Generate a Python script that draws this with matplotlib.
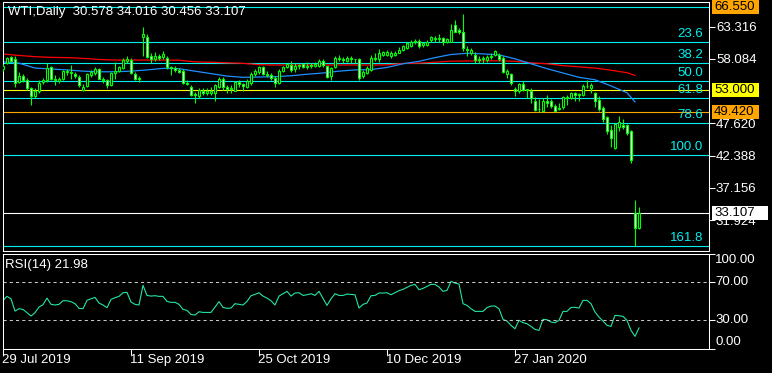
import matplotlib
matplotlib.use("Agg")
import matplotlib.pyplot as plt
import matplotlib.transforms as mtransforms
from matplotlib.patches import Rectangle
import numpy as np
import pandas as pd

# daily bars, 29 Jul 2019 .. 10 Mar 2020 (no bars on 25 Dec / 1 Jan)
dates = pd.bdate_range("2019-07-29", "2020-03-10")
dates = dates[~dates.isin(pd.to_datetime(["2019-12-25", "2020-01-01"]))]

opens = [56.4, 57.4, 58.4, 58.0, 54.4, 55.3, 54.7, 53.3, 52.0, 52.8,
         54.4, 54.6, 56.8, 54.9, 54.5, 54.9, 56.1, 55.8, 55.7, 55.2,
         53.1, 53.7, 55.5, 55.8, 56.4, 54.8, 54.7, 53.9, 55.8, 56.1,
         56.6, 57.8, 57.9, 55.7, 55.0, 61.6, 61.6, 58.5, 58.0, 58.5,
         58.4, 58.3, 56.8, 56.6, 56.3, 56.2, 54.2, 53.6, 52.4, 52.1,
         52.9, 52.6, 52.6, 52.6, 53.6, 54.9, 53.5, 53.2, 52.9, 54.3,
         54.0, 53.6, 54.2, 55.6, 55.9, 56.7, 55.6, 55.5, 55.0, 54.1,
         56.1, 56.7, 57.1, 56.4, 56.9, 57.2, 56.8, 57.1, 56.9, 57.0,
         57.8, 56.9, 55.3, 56.8, 58.0, 58.0, 57.8, 58.2, 58.0, 58.0,
         55.3, 55.8, 56.3, 58.1, 58.0, 58.8, 58.8, 58.6, 58.7, 59.1,
         59.6, 59.9, 60.2, 60.8, 61.0, 60.3, 60.4, 61.1, 61.4, 61.4,
         61.5, 60.9, 60.9, 63.6, 62.8, 62.5, 59.7, 59.0, 58.7, 58.0,
         58.0, 57.9, 58.4, 58.7, 58.7, 58.3, 55.6, 55.6, 53.2, 52.8,
         54.0, 53.2, 52.9, 51.3, 49.9, 49.6, 51.2, 51.3, 50.4, 49.9,
         50.2, 51.8, 51.7, 52.5, 52.3, 52.3, 53.7, 53.4, 52.5, 51.4,
         50.1, 48.7, 46.6, 43.6, 47.1, 47.4, 47.4, 46.4, 33.1, 30.578]
highs = [57.3, 58.4, 58.6, 58.6, 56.0, 55.6, 55.0, 53.5, 53.3, 54.6,
         55.0, 57.4, 57.0, 55.5, 55.2, 56.3, 56.5, 57.1, 56.0, 55.4,
         54.0, 55.8, 56.3, 56.7, 56.6, 55.2, 54.9, 56.0, 57.6, 57.0,
         58.2, 58.6, 58.2, 56.0, 55.3, 63.2, 62.2, 59.0, 59.2, 58.9,
         59.3, 58.5, 57.0, 56.9, 56.6, 56.4, 54.6, 53.8, 52.7, 53.3,
         53.4, 53.4, 53.6, 54.0, 55.1, 55.2, 53.8, 53.9, 54.5, 54.6,
         54.2, 54.8, 56.0, 56.4, 57.0, 57.0, 56.2, 55.8, 55.3, 56.5,
         57.0, 57.4, 57.8, 57.4, 57.3, 57.5, 57.6, 57.5, 57.6, 58.0,
         58.0, 57.0, 56.8, 58.6, 58.7, 58.4, 58.6, 58.5, 58.1, 58.2,
         56.3, 56.9, 58.7, 59.0, 59.7, 59.4, 59.5, 59.4, 59.3, 60.0,
         60.4, 60.8, 61.1, 61.3, 61.3, 60.9, 61.1, 61.8, 61.8, 62.1,
         61.6, 61.5, 63.7, 64.4, 63.1, 65.4, 60.2, 59.9, 59.2, 58.5,
         58.5, 58.7, 59.0, 59.5, 59.0, 58.5, 56.4, 55.8, 53.5, 54.1,
         54.5, 53.2, 53.3, 51.9, 51.5, 51.7, 52.2, 51.6, 50.8, 51.0,
         52.0, 52.3, 52.7, 52.7, 52.5, 54.0, 54.7, 54.1, 52.7, 52.1,
         50.5, 48.9, 47.3, 47.7, 48.8, 48.4, 47.5, 46.6, 35.2, 34.016]
lows = [56.1, 57.2, 57.6, 53.6, 54.1, 54.3, 53.0, 50.6, 51.7, 52.6,
        54.0, 54.3, 54.7, 53.9, 54.2, 54.7, 55.5, 54.9, 55.0, 53.6,
        52.8, 53.5, 55.2, 55.5, 54.8, 54.2, 53.3, 53.7, 54.9, 55.9,
        56.4, 57.5, 55.6, 54.7, 54.4, 58.6, 58.2, 57.5, 57.8, 57.9,
        58.0, 56.5, 55.5, 56.0, 55.8, 54.0, 53.8, 52.0, 50.9, 51.8,
        52.2, 52.3, 52.2, 51.3, 53.4, 53.0, 52.6, 52.5, 52.8, 53.5,
        52.9, 53.4, 53.8, 55.3, 55.6, 55.4, 55.1, 54.6, 53.6, 54.0,
        55.9, 56.6, 56.0, 56.0, 56.5, 56.6, 56.4, 56.6, 56.7, 56.8,
        56.8, 55.0, 54.7, 56.6, 57.8, 57.4, 57.6, 57.4, 57.4, 54.7,
        55.0, 55.6, 56.1, 57.8, 57.6, 58.6, 58.5, 58.3, 58.5, 59.0,
        59.4, 59.7, 60.0, 60.5, 59.8, 60.0, 60.2, 60.9, 60.9, 60.9,
        60.4, 60.6, 60.8, 62.4, 62.1, 59.3, 58.5, 58.7, 57.4, 57.5,
        57.4, 57.6, 58.1, 58.5, 57.8, 55.8, 55.0, 53.8, 52.1, 52.6,
        52.8, 51.7, 51.0, 49.7, 49.5, 49.4, 50.3, 50.1, 49.5, 49.8,
        50.0, 50.6, 51.5, 51.2, 51.3, 52.1, 53.3, 52.5, 50.3, 49.6,
        47.9, 45.9, 43.8, 43.5, 46.4, 46.7, 45.8, 41.2, 27.7, 30.456]
closes = [56.9, 58.3, 57.8, 54.2, 55.3, 54.7, 53.3, 52.1, 52.8, 54.1,
          54.7, 56.6, 54.9, 54.6, 54.9, 56.1, 55.9, 56.0, 55.3, 53.9,
          53.6, 55.6, 56.0, 56.4, 54.9, 54.6, 53.8, 55.8, 56.2, 56.7,
          57.9, 58.1, 55.8, 54.9, 54.8, 62.2, 58.4, 58.0, 58.5, 58.2,
          58.9, 56.7, 56.6, 56.3, 56.0, 54.1, 54.0, 52.2, 52.2, 53.0,
          52.6, 52.9, 52.9, 53.8, 54.9, 53.5, 53.2, 53.3, 54.3, 54.0,
          53.7, 54.5, 55.7, 56.1, 56.7, 55.6, 55.5, 55.0, 54.1, 56.2,
          56.7, 57.2, 56.3, 56.9, 57.1, 56.8, 57.0, 56.9, 57.2, 57.8,
          57.1, 55.2, 56.6, 58.2, 58.2, 57.9, 58.3, 58.0, 58.0, 55.0,
          56.0, 56.6, 58.2, 58.2, 59.0, 59.2, 59.2, 59.1, 59.1, 59.6,
          60.2, 60.6, 60.9, 61.0, 60.2, 60.6, 60.9, 61.6, 61.5, 61.5,
          60.8, 61.3, 62.8, 62.5, 62.4, 59.8, 59.6, 59.5, 57.9, 57.9,
          58.3, 58.4, 58.5, 59.4, 58.0, 55.9, 56.1, 54.1, 52.9, 54.0,
          53.0, 53.1, 51.7, 49.8, 50.0, 51.3, 51.0, 50.4, 49.7, 50.1,
          51.9, 51.9, 52.5, 52.2, 52.4, 53.7, 53.7, 53.9, 51.3, 49.9,
          48.4, 46.4, 45.3, 47.6, 47.9, 47.0, 46.1, 41.7, 30.6, 33.107]

# moving averages read every 4 bars (last point = bar 158)
ma_bars = list(range(0, 157, 4)) + [158]
ma_blue = [57.6, 57.4, 56.6, 56.45, 56.3, 56.1, 56.0, 56.0, 56.1, 56.3,
           56.55, 56.5, 56.1, 55.7, 55.3, 55.1, 55.15, 55.2, 55.35, 55.6,
           55.8, 56.1, 56.3, 56.35, 56.7, 57.3, 57.7, 58.3, 58.8, 59.0,
           58.9, 58.75, 58.1, 57.3, 56.5, 55.8, 55.1, 54.7, 53.7, 52.6, 51.1]
ma_red = [58.88, 58.65, 58.45, 58.34, 58.3, 58.18, 58.0, 57.9, 57.9, 57.9,
          57.9, 57.88, 57.6, 57.55, 57.45, 57.37, 57.15, 57.1, 57.1, 57.1,
          57.1, 57.1, 57.1, 57.1, 57.12, 57.35, 57.4, 57.55, 57.72, 57.75,
          57.78, 57.78, 57.7, 57.45, 57.3, 57.0, 56.8, 56.6, 56.25, 55.85, 55.4]

rsi = [51, 55.2, 52.7, 39.7, 42.2, 41.5, 38, 34.5, 38, 44,
       46.4, 53.4, 46.8, 46.1, 46.8, 50.6, 50.6, 49.6, 47.5, 42.6,
       42.2, 51, 52.7, 54.1, 48.2, 46.1, 43.3, 52, 53.8, 55.2,
       59, 59.4, 49.2, 46.8, 46.1, 66.8, 56.2, 55.5, 55.9, 55.2,
       55.2, 49.9, 48.9, 48.9, 46.8, 41.5, 40.4, 36.2, 35.5, 39,
       38.3, 38.3, 38.3, 44, 49.6, 43.6, 42.6, 42.9, 47.5, 46.8,
       46.1, 49.9, 55.9, 57.3, 59, 55.5, 53.4, 50.6, 46.1, 55.5,
       58, 60.5, 55.5, 58.7, 59, 56.2, 56.9, 58, 56.2, 60.5,
       53, 45.7, 52.7, 58, 56.2, 56.2, 57.6, 57.3, 56.9, 42.9,
       46.8, 48.2, 55.9, 56.2, 58.7, 58.7, 59, 56.9, 59, 61.2,
       62.6, 64.7, 66.8, 67.8, 62.2, 63.6, 65.7, 67.8, 67.8, 65,
       60.5, 61.5, 71, 69.2, 68.2, 47.5, 45.7, 42.2, 39.4, 39.4,
       39.4, 43.3, 45, 45, 42.2, 31, 29.2, 24.7, 21.1, 30,
       27.5, 26.4, 23.6, 20.4, 19.4, 31, 30.6, 28.2, 27.5, 30,
       39.4, 39.4, 43.6, 43.6, 42.9, 51, 51, 47.5, 38.7, 33.4,
       29.2, 24.7, 23.6, 35.2, 34.8, 34.1, 30, 19.4, 13.1, 21.98]

fib_high = 66.55
fib_low = 42.55
fib_ratios = [0.0, 23.6, 38.2, 50.0, 61.8, 78.6, 100.0, 161.8]
price_ticks = [31.924, 37.156, 42.388, 47.620, 58.084, 63.316]
date_ticks = [0, 32, 64, 96, 128]

W, H = 772, 373
GREEN = "#00FF00"
CYAN = "#00F0F0"

plt.rcParams["font.family"] = ["Liberation Sans", "DejaVu Sans"]


def fbox(x0, y0, x1, y1):
    return [x0 / W, 1 - y1 / H, (x1 - x0) / W, (y1 - y0) / H]


fig = plt.figure(figsize=(W / 100, H / 100), dpi=100, facecolor="black")
ax = fig.add_axes(fbox(2.5, 2.3, 709, 251.3), facecolor="black")
ax2 = fig.add_axes(fbox(2.5, 253.8, 709, 349), facecolor="black")
AX_H = 251.3 - 2.3

for a in (ax, ax2):
    for s in a.spines.values():
        s.set_color("white")
        s.set_linewidth(0.75)
    a.set_xlim(-0.125, 176.5)

x = np.arange(len(dates))
o = np.array(opens)
c = np.array(closes)

# fibo levels + other horizontal lines
lab_tr = mtransforms.offset_copy(ax.transData, fig=fig, x=0, y=8, units="dots")
for r in fib_ratios:
    lvl = fib_high - (fib_high - fib_low) * r / 100
    ax.axhline(lvl, color=CYAN, lw=0.8, zorder=1)
    ax.text(175.0, lvl, f"{r:.1f}", transform=lab_tr, color=CYAN, fontsize=9.5,
            ha="right", va="center", clip_on=True, zorder=2)
ax.axhline(53.0, color="#FFFF00", lw=0.8, zorder=1)
ax.axhline(49.42, color="#FFA500", lw=0.8, zorder=1)
ax.axhline(closes[-1], color="white", lw=0.8, zorder=1)

# moving averages
ax.plot(ma_bars, ma_red, color="#FF0000", lw=0.9, zorder=2)
ax.plot(ma_bars, ma_blue, color="#1E90FF", lw=0.9, zorder=2)

# candles
ax.vlines(x, lows, highs, color=GREEN, lw=0.8, zorder=3)
face = np.where(c >= o, "black", "white")
ax.bar(x, np.abs(c - o), bottom=np.minimum(o, c), width=0.65, color=face,
       edgecolor=GREEN, linewidth=0.8, zorder=4)

ax.set_ylim(26.855, 67.277)
ax.yaxis.tick_right()
ax.set_yticks(price_ticks)
ax.set_yticklabels([f"{t:.3f}" for t in price_ticks])
ax.tick_params(axis="y", colors="white", length=4, width=0.75, pad=1, labelsize=9.5)
ax.set_xticks([])

# price boxes on the right scale
per_px = (67.277 - 26.855) / AX_H
btr = mtransforms.blended_transform_factory(fig.transFigure, ax.transData)
for p, txt, fc, x1 in [(66.55, "66.550", "#FFA500", 759), (53.0, "53.000", "#FFFF00", 759),
                       (49.42, "49.420", "#FFA500", 759), (closes[-1], "33.107", "white", 768)]:
    ax.add_patch(Rectangle((712 / W, p - 7 * per_px), (x1 - 712) / W, 14 * per_px,
                           transform=btr, fc=fc, ec="none", clip_on=False, zorder=6))
    ax.text(714 / W, p, txt, transform=btr, color="black", fontsize=9.5,
            ha="left", va="center", clip_on=False, zorder=7)

fig.text(8 / W, 1 - 12 / H, "WTI,Daily  30.578 34.016 30.456 33.107", color="white",
         fontsize=9.5, ha="left", va="center")

# RSI panel
ax2.plot(x, rsi, color="#22E6A0", lw=0.8)
for lvl in (70, 30):
    ax2.axhline(lvl, color="#C8C8C8", lw=0.75, dashes=(3, 3))
ax2.set_ylim(-0.2, 100)
ax2.yaxis.tick_right()
ax2.set_yticks([0, 30, 70, 100])
ax2.set_yticklabels([])
ax2.tick_params(axis="y", colors="white", length=4, width=0.75)
for lab, ypx in [("100.00", 260), ("70.00", 282.3), ("30.00", 320.3), ("0.00", 342)]:
    fig.text(715 / W, 1 - ypx / H, lab, color="white", fontsize=9.5, ha="left", va="center")
fig.text(5 / W, 1 - 265 / H, f"RSI(14) {rsi[-1]:.2f}", color="white", fontsize=9.5,
         ha="left", va="center")

ax2.set_xticks(date_ticks)
ax2.set_xticklabels([])
ax2.tick_params(axis="x", colors="white", length=4, width=0.75, direction="out")
dtr = mtransforms.blended_transform_factory(ax2.transData, fig.transFigure)
for i in date_ticks:
    ax2.text(i - 0.2, 1 - 360 / H, dates[i].strftime("%-d %b %Y"), transform=dtr,
             color="white", fontsize=9.5, ha="left", va="center", clip_on=False)

fig.savefig("out.png", dpi=100, facecolor="black")
